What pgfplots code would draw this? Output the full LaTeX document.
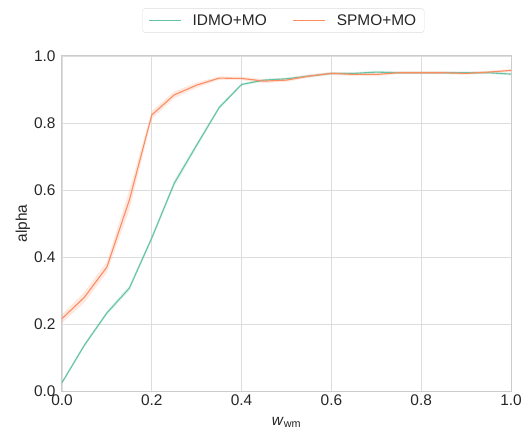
\documentclass[border=0pt]{standalone}
\usepackage{pgfplots}
\pgfplotsset{compat=1.18}
\usepackage{fontspec}
\setmainfont{Liberation Sans}
\definecolor{sgreen}{HTML}{66C2A5}
\definecolor{sorange}{HTML}{FC8D62}
\definecolor{gridc}{HTML}{DDDDDD}
\definecolor{spinec}{HTML}{CCCCCC}
\definecolor{txt}{HTML}{262626}
\begin{document}
\begin{tikzpicture}
\begin{axis}[
  width=449bp, height=335bp, scale only axis,
  xmin=0, xmax=1, ymin=0, ymax=1,
  xtick={0,0.2,0.4,0.6,0.8,1.0},
  ytick={0,0.2,0.4,0.6,0.8,1.0},
  grid=major,
  major grid style={color=gridc, line width=0.9bp},
  axis line style={color=spinec, line width=1bp},
  major tick length=0pt,
  /pgf/number format/assume math mode=true,
  /pgf/number format/.cd, fixed, fixed zerofill, precision=1, /pgfplots/.cd,
  ticklabel style={font=\fontsize{15.5}{17}\selectfont, text=txt},
  xticklabel style={yshift=0bp},
  yticklabel style={xshift=-3bp},
  ylabel={alpha},
  xlabel={\textit{w}\textsubscript{wm}},
  label style={font=\fontsize{15.5}{17}\selectfont, text=txt},
  ylabel style={yshift=-3bp},
  xlabel style={yshift=-5bp},
  legend columns=2,
  legend style={at={(0.493,1.069)}, anchor=south, draw=gridc, rounded corners=3bp,
    font=\fontsize{15.5}{17}\selectfont, inner xsep=6bp, inner ysep=4bp,
    /tikz/every odd column/.append style={column sep=9bp},
    /tikz/every even column/.append style={column sep=24bp}},
  legend image code/.code={\draw[#1] (0bp,0bp) -- (32bp,0bp);},
]
% bands
\addplot[forget plot, fill=sgreen, fill opacity=0.2, draw=none] coordinates {
(0,0.030) (0.05,0.143) (0.1,0.239) (0.15,0.315) (0.2,0.465) (0.25,0.630) (0.3,0.742) (0.35,0.852) (0.4,0.919) (0.45,0.932) (0.5,0.936) (0.55,0.944) (0.6,0.952) (0.65,0.952) (0.7,0.956) (0.75,0.954) (0.8,0.954) (0.85,0.954) (0.9,0.954) (0.95,0.954) (1.0,0.950)
(1.0,0.942) (0.95,0.946) (0.9,0.946) (0.85,0.946) (0.8,0.946) (0.75,0.946) (0.7,0.948) (0.65,0.944) (0.6,0.944) (0.55,0.936) (0.5,0.928) (0.45,0.924) (0.4,0.911) (0.35,0.840) (0.3,0.726) (0.25,0.610) (0.2,0.449) (0.15,0.299) (0.1,0.227) (0.05,0.131) (0,0.020)} -- cycle;
\addplot[forget plot, fill=sorange, fill opacity=0.2, draw=none] coordinates {
(0,0.229) (0.05,0.296) (0.1,0.386) (0.15,0.600) (0.2,0.836) (0.25,0.894) (0.3,0.921) (0.35,0.939) (0.4,0.938) (0.45,0.931) (0.5,0.933) (0.55,0.945) (0.6,0.952) (0.65,0.950) (0.7,0.950) (0.75,0.954) (0.8,0.954) (0.85,0.954) (0.9,0.952) (0.95,0.956) (1.0,0.961)
(1.0,0.953) (0.95,0.948) (0.9,0.944) (0.85,0.946) (0.8,0.946) (0.75,0.946) (0.7,0.940) (0.65,0.940) (0.6,0.944) (0.55,0.935) (0.5,0.923) (0.45,0.919) (0.4,0.928) (0.35,0.929) (0.3,0.905) (0.25,0.874) (0.2,0.812) (0.15,0.540) (0.1,0.354) (0.05,0.264) (0,0.203)} -- cycle;
% zero line
\addplot[forget plot, color=gray!70, dashed, line width=0.8bp] coordinates {(0,0) (1,0)};
% lines
\addplot[color=sgreen, line width=1.1bp] coordinates {
(0,0.025) (0.05,0.137) (0.1,0.233) (0.15,0.307) (0.2,0.457) (0.25,0.620) (0.3,0.734) (0.35,0.846) (0.4,0.915) (0.45,0.928) (0.5,0.932) (0.55,0.940) (0.6,0.948) (0.65,0.948) (0.7,0.952) (0.75,0.950) (0.8,0.950) (0.85,0.950) (0.9,0.950) (0.95,0.950) (1.0,0.946)};
\addlegendentry{\textcolor{txt}{IDMO+MO}}
\addplot[color=sorange, line width=1.1bp] coordinates {
(0,0.216) (0.05,0.280) (0.1,0.370) (0.15,0.570) (0.2,0.824) (0.25,0.884) (0.3,0.913) (0.35,0.934) (0.4,0.933) (0.45,0.925) (0.5,0.928) (0.55,0.940) (0.6,0.948) (0.65,0.945) (0.7,0.945) (0.75,0.950) (0.8,0.950) (0.85,0.950) (0.9,0.948) (0.95,0.952) (1.0,0.957)};
\addlegendentry{\textcolor{txt}{SPMO+MO}}
\end{axis}
\pgfresetboundingbox
\path ([shift={(-62bp,-46bp)}]current axis.south west) rectangle ([shift={(18bp,56bp)}]current axis.north east);
\end{tikzpicture}
\end{document}
